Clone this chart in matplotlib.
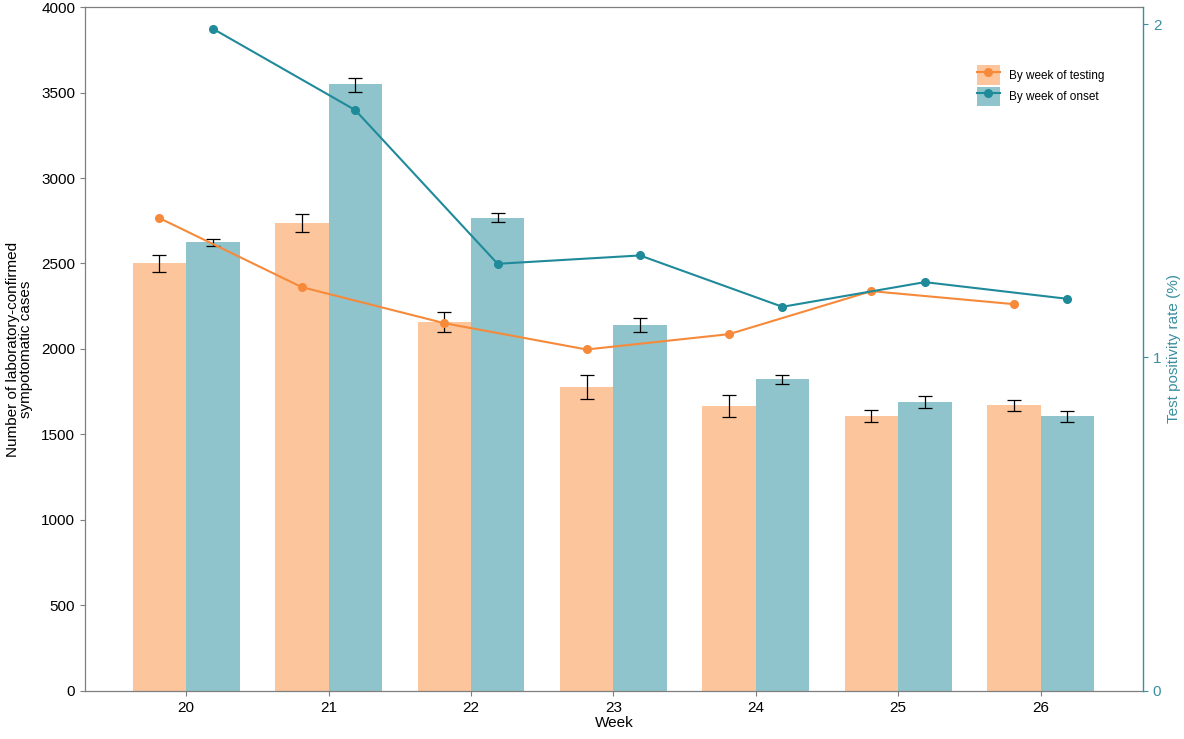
import numpy as np
import matplotlib.pyplot as plt
from matplotlib.patches import Patch
from matplotlib.lines import Line2D

plt.rcParams['font.family'] = ['Liberation Sans', 'DejaVu Sans']

weeks = [20, 21, 22, 23, 24, 25, 26]

# bars: number of lab-confirmed symptomatic cases
cases_testing = [2505, 2739, 2160, 1778, 1668, 1610, 1672]
cases_testing_lo = [2448, 2682, 2097, 1710, 1604, 1571, 1637]
cases_testing_hi = [2550, 2788, 2216, 1848, 1729, 1643, 1700]

cases_onset = [2624, 3548, 2768, 2142, 1825, 1690, 1606]
cases_onset_lo = [2600, 3503, 2741, 2101, 1794, 1653, 1571]
cases_onset_hi = [2645, 3587, 2793, 2181, 1846, 1723, 1635]

# lines: test positivity rate (%)
tpr_testing = [1.418, 1.211, 1.103, 1.024, 1.070, 1.199, 1.160]
tpr_onset = [1.986, 1.742, 1.281, 1.306, 1.152, 1.226, 1.176]

C_BAR_T = "#fdc59b"
C_BAR_O = "#8fc4cc"
C_LINE_T = "#f68a3a"
C_LINE_O = "#1f8a9a"
C_AXIS_R = "#3a8fa0"
C_GRAY = "#7f7f7f"

x = np.array(weeks, dtype=float)
w = 0.375

fig = plt.figure(figsize=(11.84, 7.39), dpi=100)
ax = fig.add_axes([0.0718, 0.065, 0.8936, 0.9255])

def yerr(v, lo, hi):
    v, lo, hi = map(np.asarray, (v, lo, hi))
    return np.vstack([v - lo, hi - v])

ax.bar(x - w / 2, cases_testing, w, color=C_BAR_T, zorder=2)
ax.bar(x + w / 2, cases_onset, w, color=C_BAR_O, zorder=2)
ax.errorbar(x - w / 2, cases_testing, yerr=yerr(cases_testing, cases_testing_lo, cases_testing_hi),
            fmt="none", ecolor="black", elinewidth=0.9, capsize=5, capthick=0.9, zorder=3)
ax.errorbar(x + w / 2, cases_onset, yerr=yerr(cases_onset, cases_onset_lo, cases_onset_hi),
            fmt="none", ecolor="black", elinewidth=0.9, capsize=5, capthick=0.9, zorder=3)

ax.set_xlim(19.29, 26.72)
ax.set_ylim(0, 4000)
ax.set_yticks(np.arange(0, 4001, 500))
ax.set_xticks(weeks)
ax.tick_params(axis="both", direction="out", length=3.5, width=0.8, color=C_GRAY,
               labelsize=11, labelcolor="black")
for s in ["left", "bottom", "top"]:
    ax.spines[s].set_color(C_GRAY)
    ax.spines[s].set_linewidth(0.9)
ax.spines["right"].set_visible(False)
ax.set_xlabel("Week", fontsize=11, labelpad=1)
ax.set_ylabel("Number of laboratory-confirmed\nsympotomatic cases", fontsize=11,
              linespacing=0.95, labelpad=6)

ax2 = ax.twinx()
ax2.plot(x - w / 2, tpr_testing, color=C_LINE_T, lw=1.5, marker="o", ms=5.5, zorder=4)
ax2.plot(x + w / 2, tpr_onset, color=C_LINE_O, lw=1.5, marker="o", ms=5.5, zorder=4)
ax2.set_ylim(0, 2.051)
ax2.set_yticks([0, 1, 2])
ax2.tick_params(axis="y", direction="out", length=3.5, width=0.8, color=C_AXIS_R,
                labelsize=11, labelcolor=C_AXIS_R)
for s in ["left", "bottom", "top"]:
    ax2.spines[s].set_visible(False)
ax2.spines["right"].set_color(C_AXIS_R)
ax2.spines["right"].set_linewidth(1.0)
ax2.set_ylabel("Test positivity rate (%)", fontsize=11, color=C_AXIS_R, labelpad=4)

handles = [
    (Patch(facecolor=C_BAR_T, edgecolor="none"),
     Line2D([], [], color=C_LINE_T, marker="o", ms=5.5, lw=1.5)),
    (Patch(facecolor=C_BAR_O, edgecolor="none"),
     Line2D([], [], color=C_LINE_O, marker="o", ms=5.5, lw=1.5)),
]
fig.legend(handles, ["By week of testing", "By week of onset"],
           loc="upper left", bbox_to_anchor=(0.821, 0.918), frameon=False,
           fontsize=8.5, handlelength=1.95, handleheight=2.2, handletextpad=0.75,
           labelspacing=0.12, borderaxespad=0)

fig.savefig("out.png", dpi=100)
